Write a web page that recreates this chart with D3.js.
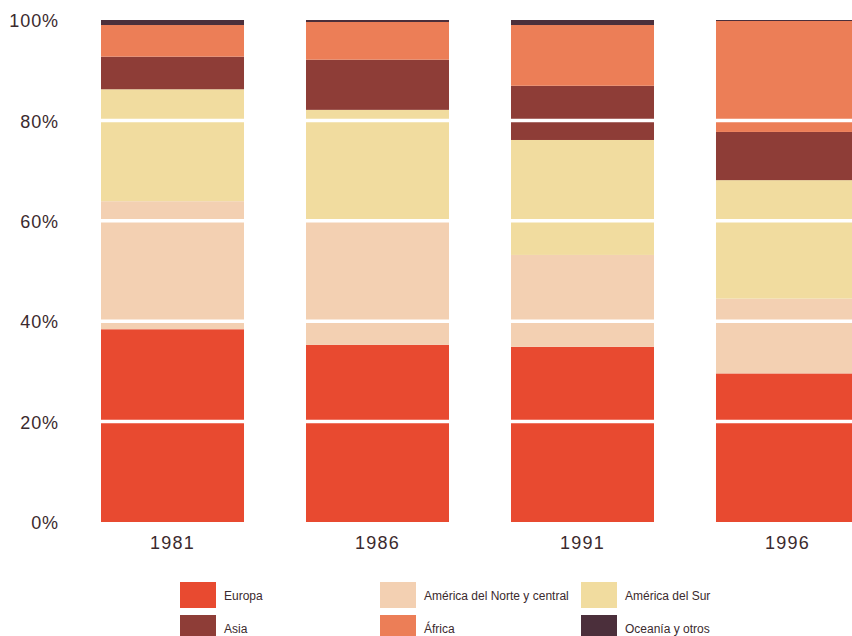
<!DOCTYPE html>
<html>
<head>
<meta charset="utf-8">
<script src="https://cdn.jsdelivr.net/npm/d3@7"></script>
<style>
  html, body { margin: 0; padding: 0; background: #ffffff; }
  svg { display: block; font-family: "Liberation Sans", Arial, sans-serif; }
</style>
</head>
<body>
<svg id="chart" width="852" height="636"></svg>
<script>
const years = ["1981", "1986", "1991", "1996"];
const regions = ["Europa", "América del Norte y central", "América del Sur", "Asia", "África", "Oceanía y otros"];
const europa    = [38.4, 35.3, 34.9, 29.6];
const norteAm   = [25.5, 25.0, 18.3, 14.9];
const surAm     = [22.3, 21.8, 22.9, 23.6];
const asia      = [6.5, 10.0, 10.8, 9.6];
const africa    = [6.3, 7.5, 12.1, 22.1];
const oceania   = [1.0, 0.4, 1.0, 0.2];
const yTicks = [0, 20, 40, 60, 80, 100];
const colors = ["#e84a30", "#f3d0b2", "#f1dc9f", "#8e3d37", "#ec7e57", "#4b2f3b"];

const seriesValues = [europa, norteAm, surAm, asia, africa, oceania];
const rows = years.map((y, i) => {
  const r = { year: y };
  regions.forEach((reg, k) => r[reg] = seriesValues[k][i]);
  return r;
});

const svg = d3.select("#chart");
const x = d3.scaleBand().domain(years).range([101, 859]).paddingInner(0.3024).paddingOuter(0);
const y = d3.scaleLinear().domain([0, 100]).range([522, 20]);

const stacked = d3.stack().keys(regions).offset(d3.stackOffsetExpand)(rows);

svg.append("g").selectAll("g")
  .data(stacked)
  .join("g")
  .attr("fill", (d, i) => colors[i])
  .selectAll("rect")
  .data(d => d)
  .join("rect")
  .attr("x", d => x(d.data.year))
  .attr("width", x.bandwidth())
  .attr("y", d => y(d[1] * 100))
  .attr("height", d => y(d[0] * 100) - y(d[1] * 100));

// white gridlines through the bars
svg.append("g").selectAll("line")
  .data(yTicks.filter(t => t > 0 && t < 100))
  .join("line")
  .attr("x1", 95).attr("x2", 852)
  .attr("y1", d => y(d)).attr("y2", d => y(d))
  .attr("stroke", "#ffffff").attr("stroke-width", 3.5);

// y axis labels
const yAxis = d3.axisLeft(y).tickValues(yTicks).tickFormat(d => d + "%").tickSize(0).tickPadding(0);
const ya = svg.append("g").attr("transform", "translate(59,1)").call(yAxis);
ya.select(".domain").remove();
ya.selectAll("text").attr("font-size", 18).attr("letter-spacing", "0.9px").attr("fill", "#3b2a2e").attr("font-family", "Liberation Sans, Arial, sans-serif");

// x axis labels
const xAxis = d3.axisBottom(x).tickSize(0).tickPadding(0);
const xa = svg.append("g").attr("transform", "translate(0,536)").call(xAxis);
xa.select(".domain").remove();
xa.selectAll("text").attr("font-size", 18).attr("letter-spacing", "1.2px").attr("fill", "#3b2a2e").attr("font-family", "Liberation Sans, Arial, sans-serif");

// legend
const legendPos = [
  [180, 582], [380, 582], [581, 582],
  [180, 615], [380, 615], [581, 615]
];
const lg = svg.append("g");
regions.forEach((reg, k) => {
  const [lx, ly] = legendPos[k];
  lg.append("rect").attr("x", lx).attr("y", ly).attr("width", 36).attr("height", 26).attr("fill", colors[k]);
  lg.append("text").attr("x", lx + 44).attr("y", ly + 14).attr("dy", "0.35em")
    .attr("font-size", 12).attr("fill", "#3b2a2e").text(reg);
});
</script>
</body>
</html>
